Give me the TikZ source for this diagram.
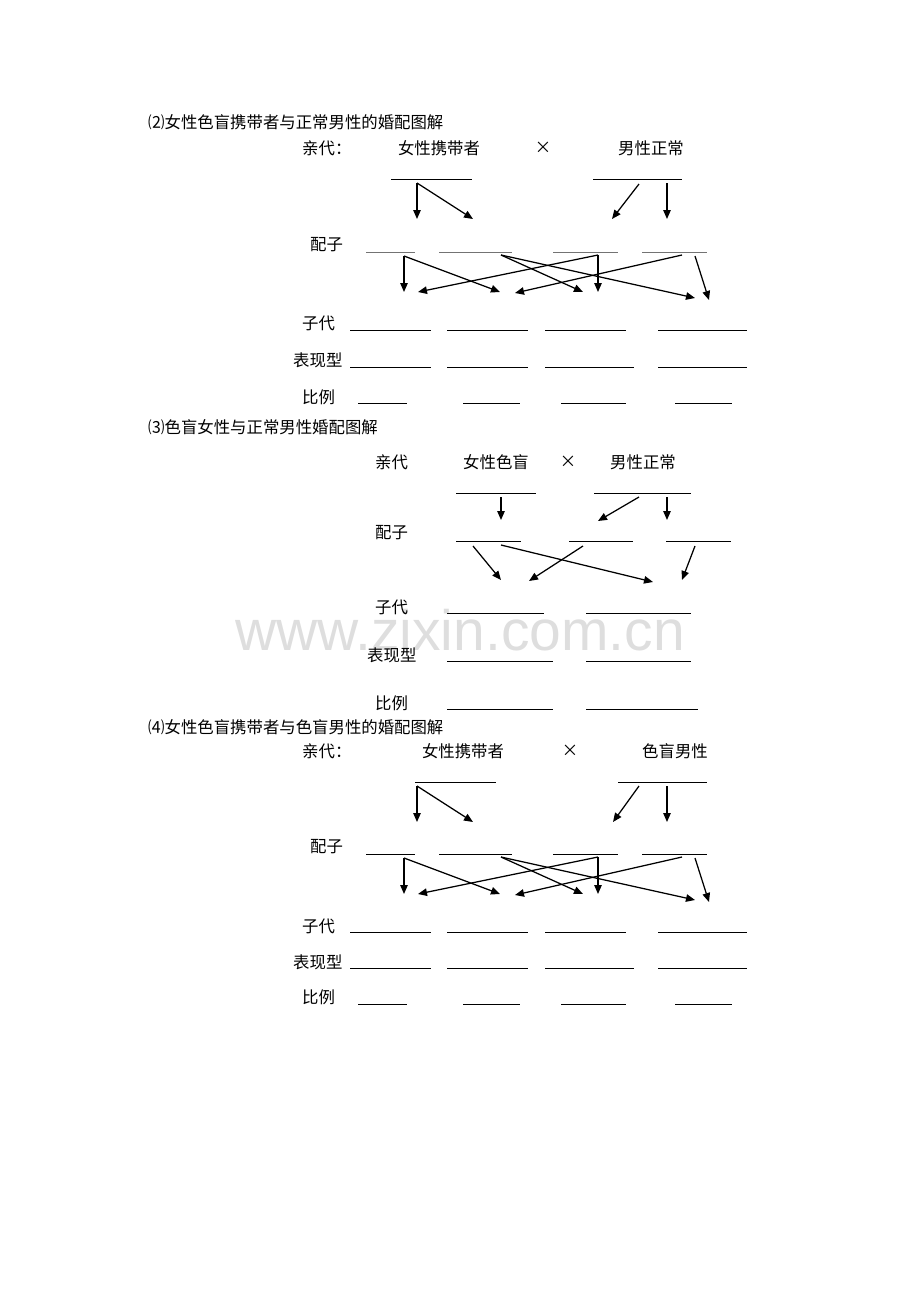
\documentclass[tikz,border=0pt]{standalone}
\usepackage{fontspec}
\newfontfamily\cjk{Noto Sans CJK SC}
\newfontfamily\wmfont{Liberation Sans}
\usetikzlibrary{arrows.meta}

\tikzset{
    every node/.style = {inner sep = 0pt},
    txt/.style = {font = \cjk\fontsize{16.4}{18}\selectfont, anchor = west},
    mid/.style = {font = \cjk\fontsize{16.4}{18}\selectfont},
    blank/.style = {line width = 0.9pt},
    gblank/.style = {line width = 1pt, draw = black!55},
    arr/.style = {-{Triangle[length=9pt, width=7.5pt]}, line width = 1.25pt}}

\begin{document}
\begin{tikzpicture}[x = 1pt, y = -1pt]
\useasboundingbox (0,0) rectangle (920,1302);

% watermark
\node[font = \wmfont\fontsize{57}{60}\selectfont, text = black!13, anchor = base]
    (wm) at (460,650) {www.zixin.com.cn};

% (2) carrier female x normal male
\node[txt] (t2) at (148,122) {⑵女性色盲携带者与正常男性的婚配图解};
\node[txt] (p2) at (302,148) {亲代：};
\node[mid] (p2f) at (439,148) {女性携带者};
\node[mid] (p2x) at (543,148) {×};
\node[mid] (p2m) at (651,148) {男性正常};
\node[txt] (g2) at (310,245) {配子};
\node[txt] (o2) at (302,323) {子代};
\node[txt] (ph2) at (293,360) {表现型};
\node[txt] (r2) at (302,397) {比例};

\draw[blank] (391,179) -- (472,179) (593,179) -- (682,179);
\draw[gblank] (366,252) -- (415,252) (439,252) -- (512,252)
              (553,252) -- (618,252) (642,252) -- (707,252);
\draw[blank] (350,330) -- (431,330) (447,330) -- (528,330)
             (545,330) -- (626,330) (658,330) -- (747,330);
\draw[blank] (350,367) -- (431,367) (447,367) -- (528,367)
             (545,367) -- (634,367) (658,367) -- (747,367);
\draw[blank] (358,403) -- (407,403) (463,403) -- (520,403)
             (561,403) -- (626,403) (675,403) -- (732,403);

\coordinate (s2f) at (417,183);
\coordinate (s2f1) at (417,219);
\coordinate (s2f2) at (473,219);
\coordinate (s2m1) at (639,184);
\coordinate (s2m1e) at (612,219);
\coordinate (s2m2) at (667,183);
\coordinate (s2m2e) at (667,219);
\draw[arr] (s2f) -- (s2f1);
\draw[arr] (s2f) -- (s2f2);
\draw[arr] (s2m1) -- (s2m1e);
\draw[arr] (s2m2) -- (s2m2e);

\coordinate (s2g1) at (404,256);
\coordinate (s2g2) at (501,255);
\coordinate (s2g3) at (598,255);
\coordinate (s2g4) at (682,255);
\coordinate (s2g4b) at (695,256);
\coordinate (s2z1) at (404,292);
\coordinate (s2z1b) at (418,292);
\coordinate (s2z2) at (500,292);
\coordinate (s2z2b) at (515,293);
\coordinate (s2z3) at (583,292);
\coordinate (s2z3b) at (598,292);
\coordinate (s2z4) at (695,298);
\coordinate (s2z4b) at (709,300);
\draw[arr] (s2g1) -- (s2z1);
\draw[arr] (s2g1) -- (s2z2);
\draw[arr] (s2g2) -- (s2z3);
\draw[arr] (s2g2) -- (s2z4);
\draw[arr] (s2g3) -- (s2z3b);
\draw[arr] (s2g3) -- (s2z1b);
\draw[arr] (s2g4) -- (s2z2b);
\draw[arr] (s2g4b) -- (s2z4b);

% (3) colour blind female x normal male
\node[txt] (t3) at (148,427) {⑶色盲女性与正常男性婚配图解};
\node[txt] (p3) at (375,462) {亲代};
\node[mid] (p3f) at (496,462) {女性色盲};
\node[mid] (p3x) at (568,462) {×};
\node[mid] (p3m) at (643,462) {男性正常};
\node[txt] (g3) at (375,533) {配子};
\node[txt] (o3) at (375,607) {子代};
\node[txt] (ph3) at (367,655) {表现型};
\node[txt] (r3) at (375,703) {比例};

\draw[blank] (456,493) -- (536,493) (594,493) -- (691,493);
\draw[blank] (456,541) -- (521,541) (569,541) -- (633,541) (666,541) -- (731,541);
\draw[blank] (447,613) -- (544,613) (586,613) -- (691,613);
\draw[blank] (447,661) -- (553,661) (586,661) -- (691,661);
\draw[blank] (447,709) -- (553,709) (586,709) -- (698,709);

\coordinate (s3f) at (501,497);
\coordinate (s3fe) at (501,520);
\coordinate (s3m1) at (639,497);
\coordinate (s3m1e) at (598,521);
\coordinate (s3m2) at (667,497);
\coordinate (s3m2e) at (667,520);
\draw[arr] (s3f) -- (s3fe);
\draw[arr] (s3m1) -- (s3m1e);
\draw[arr] (s3m2) -- (s3m2e);

\coordinate (s3g1) at (473,546);
\coordinate (s3g1b) at (501,545);
\coordinate (s3g2) at (583,546);
\coordinate (s3g3) at (695,546);
\coordinate (s3z1) at (501,580);
\coordinate (s3z1b) at (529,581);
\coordinate (s3z2) at (653,582);
\coordinate (s3z2b) at (682,580);
\draw[arr] (s3g1) -- (s3z1);
\draw[arr] (s3g1b) -- (s3z2);
\draw[arr] (s3g2) -- (s3z1b);
\draw[arr] (s3g3) -- (s3z2b);

% (4) carrier female x colour blind male
\node[txt] (t4) at (148,727) {⑷女性色盲携带者与色盲男性的婚配图解};
\node[txt] (p4) at (302,751) {亲代：};
\node[mid] (p4f) at (463,751) {女性携带者};
\node[mid] (p4x) at (570,751) {×};
\node[mid] (p4m) at (675,751) {色盲男性};
\node[txt] (g4) at (310,847) {配子};
\node[txt] (o4) at (302,926) {子代};
\node[txt] (ph4) at (293,962) {表现型};
\node[txt] (r4) at (302,997) {比例};

\draw[blank] (415,782) -- (496,782) (618,782) -- (707,782);
\draw[blank] (366,854) -- (415,854) (439,854) -- (512,854)
             (553,854) -- (618,854) (642,854) -- (707,854);
\draw[blank] (350,932) -- (431,932) (447,932) -- (528,932)
             (545,932) -- (626,932) (658,932) -- (747,932);
\draw[blank] (350,968) -- (431,968) (447,968) -- (528,968)
             (545,968) -- (634,968) (658,968) -- (747,968);
\draw[blank] (358,1004) -- (407,1004) (463,1004) -- (520,1004)
             (561,1004) -- (626,1004) (675,1004) -- (732,1004);

\coordinate (s4f) at (417,786);
\coordinate (s4f1) at (417,822);
\coordinate (s4f2) at (473,822);
\coordinate (s4m1) at (639,786);
\coordinate (s4m1e) at (613,822);
\coordinate (s4m2) at (667,786);
\coordinate (s4m2e) at (667,822);
\draw[arr] (s4f) -- (s4f1);
\draw[arr] (s4f) -- (s4f2);
\draw[arr] (s4m1) -- (s4m1e);
\draw[arr] (s4m2) -- (s4m2e);

\coordinate (s4g1) at (404,858);
\coordinate (s4g2) at (501,857);
\coordinate (s4g3) at (598,857);
\coordinate (s4g4) at (682,857);
\coordinate (s4g4b) at (695,858);
\coordinate (s4z1) at (404,894);
\coordinate (s4z1b) at (418,894);
\coordinate (s4z2) at (500,894);
\coordinate (s4z2b) at (515,895);
\coordinate (s4z3) at (583,894);
\coordinate (s4z3b) at (598,894);
\coordinate (s4z4) at (695,900);
\coordinate (s4z4b) at (709,902);
\draw[arr] (s4g1) -- (s4z1);
\draw[arr] (s4g1) -- (s4z2);
\draw[arr] (s4g2) -- (s4z3);
\draw[arr] (s4g2) -- (s4z4);
\draw[arr] (s4g3) -- (s4z3b);
\draw[arr] (s4g3) -- (s4z1b);
\draw[arr] (s4g4) -- (s4z2b);
\draw[arr] (s4g4b) -- (s4z4b);
\end{tikzpicture}
\end{document}
